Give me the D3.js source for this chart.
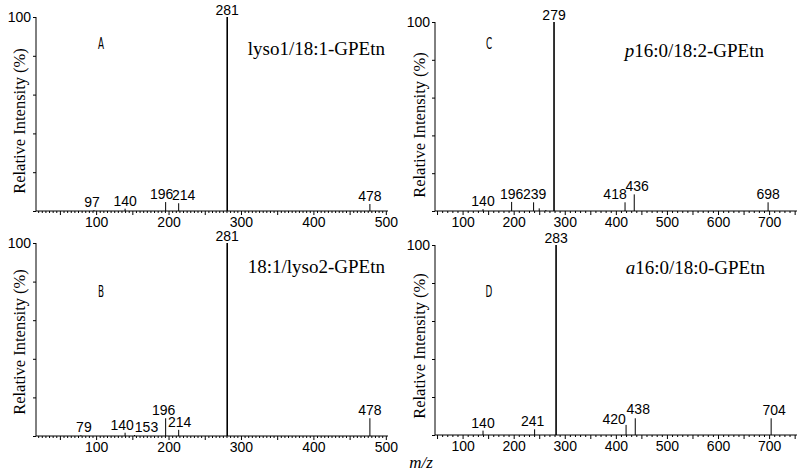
<!DOCTYPE html>
<html>
<head>
<meta charset="utf-8">
<script src="https://cdn.jsdelivr.net/npm/d3@7"></script>
<style>
  body { margin: 0; background: #fff; }
  svg { display: block; }
  .num { font-family: "Liberation Sans", Arial, sans-serif; font-size: 14px; fill: #000; }
  .serif { font-family: "Liberation Serif", "Times New Roman", serif; fill: #000; }
</style>
</head>
<body>
<div id="chart"></div>
<script>
// spectra data (m/z, relative intensity %)
const panelLetters = ['A', 'B', 'C', 'D'];
const compoundPrefix = ['', '', 'p', 'a'];
const compoundNames = ['lyso1/18:1-GPEtn', '18:1/lyso2-GPEtn', '16:0/18:2-GPEtn', '16:0/18:0-GPEtn'];

const mzA = [97, 140, 196, 214, 281, 478];
const intA = [0.4, 1.2, 4.6, 4.0, 100, 3.6];
const mzB = [79, 140, 153, 196, 214, 281, 478];
const intB = [0.4, 1.7, 0.5, 9.2, 3.2, 100, 9.2];
const mzC = [140, 196, 239, 279, 418, 436, 698];
const intC = [1.0, 4.8, 4.6, 100, 4.6, 8.8, 4.6];
const mzD = [140, 241, 283, 420, 438, 704];
const intD = [2.3, 3.0, 100, 5.3, 8.8, 8.8];

// small unlabelled peaks
const minorMzC = [250, 263];
const minorIntC = [1.4, 0.5];

const xTicksAB = [100, 200, 300, 400, 500];
const xTicksCD = [100, 200, 300, 400, 500, 600, 700];

// label nudges (px) so neighbouring labels do not collide
const labelDxA = [-2, 0, -4, 5, 0, 0];
const labelDxB = [3, -3, 12, -2, 1, 0, 0];
const labelDxC = [0, 0, 1, 0, -10, 3, 0];
const labelDxD = [0, -2, 0, -12, 3, 3];
const labelDyD = [0, 0, 0, 2, -1, 0];

const width = 800, height = 474;
const svg = d3.select('#chart').append('svg')
  .attr('width', width)
  .attr('height', height);

const panels = [
  { mz: mzA, inten: intA, dx: labelDxA, dy: [], ticks: xTicksAB, minorMz: [], minorInt: [],
    domain: [17, 503], left: 36, right: 388, top: 17, bottom: 211,
    letter: [101, 49], title: [385, 55], ylab: [20, 121] },
  { mz: mzB, inten: intB, dx: labelDxB, dy: [], ticks: xTicksAB, minorMz: [], minorInt: [],
    domain: [17, 503], left: 36, right: 388, top: 243, bottom: 436,
    letter: [101, 297], title: [385, 273], ylab: [20, 342] },
  { mz: mzC, inten: intC, dx: labelDxC, dy: [], ticks: xTicksCD, minorMz: minorMzC, minorInt: minorIntC,
    domain: [46, 754.6], left: 435, right: 797, top: 22, bottom: 211,
    letter: [489, 49], title: [764, 57], ylab: [420, 125] },
  { mz: mzD, inten: intD, dx: labelDxD, dy: labelDyD, ticks: xTicksCD, minorMz: [], minorInt: [],
    domain: [46, 754.6], left: 435, right: 797, top: 245, bottom: 435,
    letter: [489, 297], title: [765, 274], ylab: [420, 346] }
];

panels.forEach((p, i) => {
  const g = svg.append('g');
  const x = d3.scaleLinear().domain(p.domain).range([p.left, p.right]);
  const y = d3.scaleLinear().domain([0, 100]).range([p.bottom, p.top]);

  // x axis: minor ticks + labelled majors
  const minorStep = p.ticks.length > 5 ? 10 : 5;
  const minor = d3.range(Math.ceil(p.domain[0] / minorStep) * minorStep, p.domain[1], minorStep);
  const xAxis = d3.axisBottom(x)
    .tickValues(minor)
    .tickSize(2)
    .tickFormat(d => p.ticks.includes(d) ? d : '')
    .tickPadding(4);
  const xa = g.append('g')
    .attr('transform', `translate(0,${p.bottom})`)
    .call(xAxis);
  xa.select('.domain').attr('d', `M${p.left},0H${p.right}`).attr('stroke', '#000');
  xa.selectAll('.tick line')
    .attr('stroke', '#000')
    .attr('y2', d => d % 50 === 0 ? 4 : 2);
  xa.selectAll('.tick text')
    .style('font-family', '"Liberation Sans", Arial, sans-serif')
    .style('font-size', '14px')
    .attr('fill', '#000');

  // y axis: ticks every 20 %, only 100 labelled
  const yAxis = d3.axisLeft(y)
    .tickValues([0, 20, 40, 60, 80, 100])
    .tickSize(3)
    .tickPadding(2)
    .tickFormat(d => d === 100 ? '100' : '');
  const ya = g.append('g')
    .attr('transform', `translate(${p.left},0)`)
    .call(yAxis);
  ya.select('.domain').attr('d', `M0,${p.top}V${p.bottom}`).attr('stroke', '#000');
  ya.selectAll('.tick line').attr('stroke', '#000');
  ya.selectAll('.tick text')
    .style('font-family', '"Liberation Sans", Arial, sans-serif')
    .style('font-size', '14px')
    .attr('fill', '#000');

  // minor peaks
  g.selectAll('line.minor')
    .data(p.minorMz.map((m, k) => ({ m, v: p.minorInt[k] })))
    .join('line')
    .attr('class', 'minor')
    .attr('x1', d => x(d.m)).attr('x2', d => x(d.m))
    .attr('y1', p.bottom).attr('y2', d => y(d.v))
    .attr('stroke', '#000')
    .attr('stroke-width', 1);

  // labelled peaks
  const peaks = p.mz.map((m, k) => ({ m, v: p.inten[k], dx: p.dx[k], dy: p.dy[k] || 0 }));
  g.selectAll('line.peak')
    .data(peaks)
    .join('line')
    .attr('class', 'peak')
    .attr('x1', d => x(d.m)).attr('x2', d => x(d.m))
    .attr('y1', p.bottom).attr('y2', d => y(d.v))
    .attr('stroke', '#000')
    .attr('stroke-width', d => d.v >= 100 ? 1.6 : 1);

  g.selectAll('text.peaklab')
    .data(peaks)
    .join('text')
    .attr('class', 'num peaklab')
    .attr('x', d => x(d.m) + d.dx)
    .attr('y', d => y(d.v) - (d.v >= 100 ? 2 : 3) + d.dy)
    .attr('text-anchor', 'middle')
    .text(d => d.m);

  // panel letter (narrow)
  g.append('text')
    .attr('transform', `translate(${p.letter[0]},${p.letter[1]}) scale(0.55,1)`)
    .attr('text-anchor', 'middle')
    .style('font-family', '"DejaVu Sans", sans-serif')
    .style('font-size', '16px')
    .text(panelLetters[i]);

  // compound title
  const t = g.append('text')
    .attr('class', 'serif')
    .attr('x', p.title[0])
    .attr('y', p.title[1])
    .attr('text-anchor', 'end')
    .style('font-size', '19px');
  if (compoundPrefix[i]) t.append('tspan').style('font-style', 'italic').text(compoundPrefix[i]);
  t.append('tspan').text(compoundNames[i]);

  // y axis title
  g.append('text')
    .attr('class', 'serif')
    .attr('transform', `translate(${p.ylab[0] + 5},${p.ylab[1]}) rotate(-90)`)
    .attr('text-anchor', 'middle')
    .style('font-size', '16.5px')
    .text('Relative Intensity (%)');
});

svg.append('text')
  .attr('class', 'serif')
  .attr('x', 421)
  .attr('y', 468)
  .attr('text-anchor', 'middle')
  .style('font-size', '17px')
  .style('font-style', 'italic')
  .text('m/z');
</script>
</body>
</html>
